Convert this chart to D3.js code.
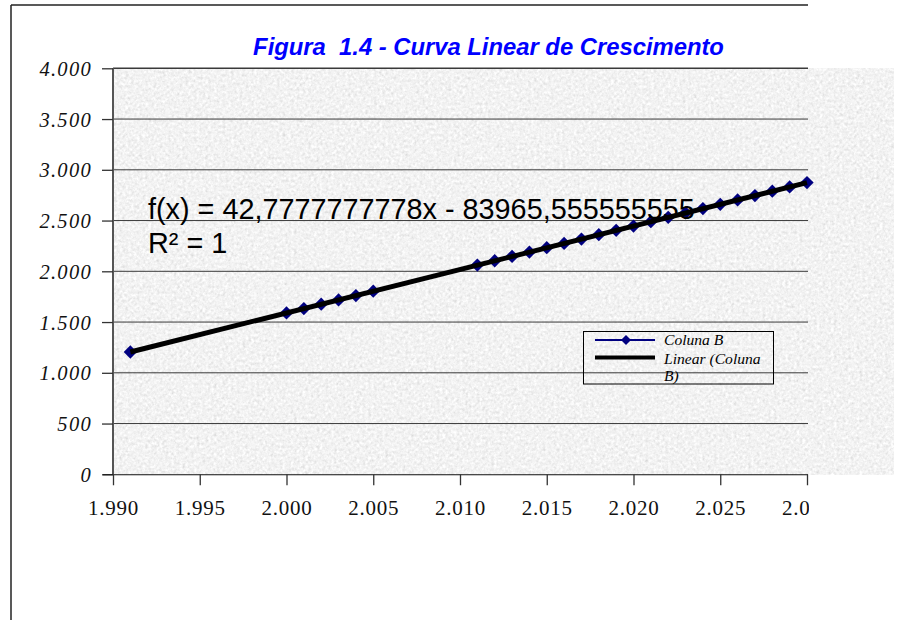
<!DOCTYPE html>
<html>
<head>
<meta charset="utf-8">
<script src="https://cdn.jsdelivr.net/npm/d3@7"></script>
<style>
  html, body { margin: 0; padding: 0; background: #fff; }
  svg { display: block; }
  text { white-space: pre; }
</style>
</head>
<body>
<svg id="chart" width="901" height="620"></svg>
<script>
// ---- data ----
const titleText = "Figura  1.4 - Curva Linear de Crescimento";
const years = [1991, 2000, 2001, 2002, 2003, 2004, 2005,
  2011, 2012, 2013, 2014, 2015, 2016, 2017, 2018, 2019, 2020,
  2021, 2022, 2023, 2024, 2025, 2026, 2027, 2028, 2029, 2030];
const colunaB = [1205, 1590, 1633, 1676, 1718, 1761, 1804,
  2061, 2104, 2147, 2190, 2233, 2275, 2318, 2361, 2404, 2446,
  2489, 2532, 2575, 2618, 2660, 2703, 2746, 2789, 2831, 2874];
const trendCoef = [42.7777777778, -83965.555555556]; // slope, intercept (from label)
const equationLines = ["f(x) = 42,7777777778x - 83965,555555555", "R\u00B2 = 1"];
const xTicks = [1990, 1995, 2000, 2005, 2010, 2015, 2020, 2025, 2030];
const yTicks = [0, 500, 1000, 1500, 2000, 2500, 3000, 3500, 4000];
const legendLabels = ["Coluna B", "Linear (Coluna", "B)"];

// ---- layout ----
const svg = d3.select("#chart");
const L = 113, R = 807, T = 68.3, B = 474.3;
const x = d3.scaleLinear().domain([1990, 2030]).range([L, R]);
const y = d3.scaleLinear().domain([0, 4000]).range([B, T]);
const loc = d3.formatLocale({decimal: ",", thousands: ".", grouping: [3], currency: ["", ""]});
const fmt = loc.format(",");

const defs = svg.append("defs");
const filt = defs.append("filter").attr("id", "tex")
  .attr("x", 0).attr("y", 0).attr("width", 1).attr("height", 1);
filt.append("feTurbulence").attr("type", "fractalNoise")
  .attr("baseFrequency", "0.35").attr("numOctaves", 3).attr("seed", 7).attr("result", "n");
filt.append("feColorMatrix").attr("in", "n").attr("type", "matrix")
  .attr("values", "0.22 0.22 0.22 0 0.56  0.22 0.22 0.22 0 0.56  0.22 0.22 0.22 0 0.56  0 0 0 0 1");
defs.append("clipPath").attr("id", "xclip").append("rect")
  .attr("x", 0).attr("y", 0).attr("width", 809).attr("height", 620);

// outer frame lines
svg.append("line").attr("x1", 11).attr("x2", 808).attr("y1", 5).attr("y2", 5)
  .attr("stroke", "#222").attr("stroke-width", 1.5);
svg.append("line").attr("x1", 11).attr("x2", 11).attr("y1", 5).attr("y2", 620)
  .attr("stroke", "#222").attr("stroke-width", 1.5);

// textured background
svg.append("rect").attr("x", L).attr("y", T).attr("width", 894 - L).attr("height", B - T + 0.7)
  .attr("fill", "#e0e0e0").attr("filter", "url(#tex)");

// title
svg.append("text").attr("x", 488.5).attr("y", 55).attr("text-anchor", "middle")
  .attr("font-family", "Liberation Sans, Arial, sans-serif").attr("font-size", 23.8)
  .attr("font-weight", "bold").attr("font-style", "italic").attr("fill", "#0000ff")
  .text(titleText);

// gridlines
svg.append("g").selectAll("line").data(yTicks.filter(d => d > 0)).join("line")
  .attr("x1", L).attr("x2", R + 1).attr("y1", d => y(d)).attr("y2", d => y(d))
  .attr("stroke", "#3a3a3a").attr("stroke-width", d => d === 4000 ? 1.6 : 1);

// left plot border
svg.append("line").attr("x1", L).attr("x2", L).attr("y1", T).attr("y2", B)
  .attr("stroke", "#555").attr("stroke-width", 2);

// y axis
const yAxis = svg.append("g").attr("transform", `translate(${L},0)`)
  .call(d3.axisLeft(y).tickValues(yTicks).tickSize(11).tickPadding(10).tickFormat(fmt));
yAxis.select(".domain").remove();
yAxis.selectAll(".tick line").attr("stroke", "#333").attr("stroke-width", 1.3);
yAxis.selectAll(".tick text").attr("font-family", "Liberation Serif, Times New Roman, serif")
  .attr("font-size", 20.5).attr("font-style", "italic").attr("letter-spacing", 1.3)
  .attr("fill", "#111").attr("dy", "0.34em");

// x axis
const xAxis = svg.append("g").attr("transform", `translate(0,${B})`).attr("clip-path", "url(#xclip)")
  .call(d3.axisBottom(x).tickValues(xTicks).tickSize(11).tickPadding(15).tickFormat(fmt));
xAxis.select(".domain").attr("stroke", "#111").attr("stroke-width", 2).attr("d", `M${L - 10},0H${R + 1}`);
xAxis.selectAll(".tick line").attr("stroke", "#333").attr("stroke-width", 1.3);
xAxis.selectAll(".tick text").attr("font-family", "Liberation Serif, Times New Roman, serif")
  .attr("font-size", 21).attr("letter-spacing", 0.8).attr("fill", "#111");

// series line
const pts = years.map((yr, i) => [yr, colunaB[i]]);
svg.append("path").datum(pts)
  .attr("d", d3.line().x(d => x(d[0])).y(d => y(d[1])))
  .attr("fill", "none").attr("stroke", "#000080").attr("stroke-width", 1.5);

// markers (square rotated 45deg)
const diamond = d3.symbol().type(d3.symbolSquare).size(88);
svg.append("g").selectAll("path").data(pts).join("path")
  .attr("d", diamond).attr("transform", d => `translate(${x(d[0])},${y(d[1])}) rotate(45)`)
  .attr("fill", "#000080");

// trendline
const tx = [years[0], years[years.length - 1]];
svg.append("line")
  .attr("x1", x(tx[0])).attr("y1", y(trendCoef[0] * tx[0] + trendCoef[1]))
  .attr("x2", x(tx[1])).attr("y2", y(trendCoef[0] * tx[1] + trendCoef[1]))
  .attr("stroke", "#000").attr("stroke-width", 5);

// equation
svg.append("g").selectAll("text").data(equationLines).join("text")
  .attr("x", 148).attr("y", (d, i) => 219 + i * 34)
  .attr("font-family", "Liberation Sans, Arial, sans-serif").attr("font-size", 28.8)
  .attr("fill", "#000").text(d => d);

// legend
const lg = svg.append("g");
lg.append("rect").attr("x", 583.5).attr("y", 331.5).attr("width", 190).attr("height", 52.5)
  .attr("fill", "none").attr("stroke", "#000").attr("stroke-width", 1);
lg.append("line").attr("x1", 595).attr("x2", 655).attr("y1", 340).attr("y2", 340)
  .attr("stroke", "#000080").attr("stroke-width", 2);
lg.append("path").attr("d", d3.symbol().type(d3.symbolSquare).size(50))
  .attr("transform", "translate(626,340) rotate(45)").attr("fill", "#000080");
lg.append("line").attr("x1", 595).attr("x2", 655).attr("y1", 357.5).attr("y2", 357.5)
  .attr("stroke", "#000").attr("stroke-width", 4);
lg.selectAll("text.lt").data(legendLabels).join("text").attr("class", "lt")
  .attr("x", 664).attr("y", (d, i) => [345, 364, 381][i])
  .attr("font-family", "Liberation Serif, Times New Roman, serif").attr("font-size", 15.6)
  .attr("font-style", "italic").attr("fill", "#000").text(d => d);
</script>
</body>
</html>
